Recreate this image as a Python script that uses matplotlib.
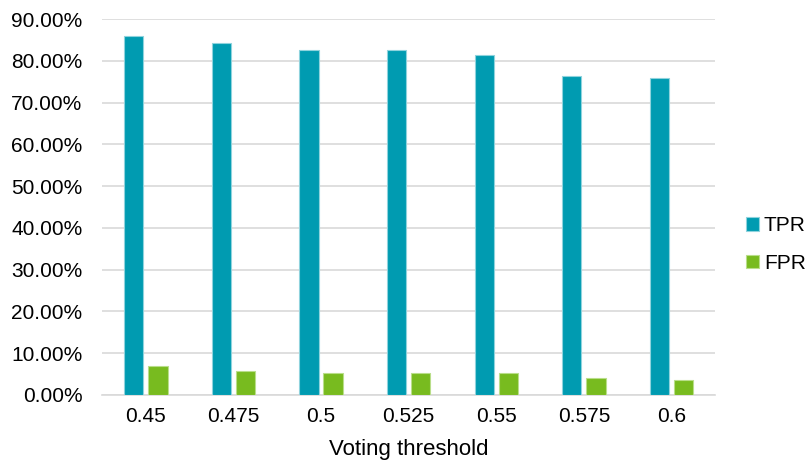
import numpy as np
import matplotlib.pyplot as plt
from matplotlib.ticker import PercentFormatter

plt.rcParams['font.family'] = ['Liberation Sans', 'DejaVu Sans']

thresholds = ['0.45', '0.475', '0.5', '0.525', '0.55', '0.575', '0.6']
tpr = [86.0, 84.3, 82.6, 82.6, 81.4, 76.4, 75.9]
fpr = [6.9, 5.8, 5.2, 5.2, 5.2, 4.1, 3.5]

teal = '#009BB1'
green = '#78BB1F'

fig = plt.figure(figsize=(8.1, 4.68), dpi=100)
ax = fig.add_axes([0.126, 0.156, 0.757, 0.803])

x = np.arange(len(thresholds))
w = 0.22
gap = 0.055
ax.bar(x - (w + gap) / 2, tpr, w, color=teal, edgecolor='#8FD3DD', linewidth=0.8, label='TPR', zorder=3)
ax.bar(x + (w + gap) / 2, fpr, w, color=green, edgecolor='#B9DE8A', linewidth=0.8, label='FPR', zorder=3)

ax.set_ylim(0, 90)
ax.set_yticks(np.arange(0, 91, 10))
ax.yaxis.set_major_formatter(PercentFormatter(decimals=2))
ax.set_xlim(-0.5, len(thresholds) - 0.5)
ax.set_xticks(x)
ax.set_xticklabels(thresholds)
ax.grid(axis='y', color='#D9D9D9', linewidth=1.2, zorder=0)
for s in ['top', 'right', 'left']:
    ax.spines[s].set_visible(False)
ax.spines['bottom'].set_color('#D9D9D9')
ax.spines['bottom'].set_linewidth(1.2)
ax.tick_params(length=0, labelsize=15, colors='#000000')
ax.tick_params(axis='y', pad=14)
ax.tick_params(axis='x', pad=9)
ax.set_xlabel('Voting threshold', fontsize=16, labelpad=9)

ax.legend(loc='center left', bbox_to_anchor=(1.02, 0.40), frameon=False, fontsize=15,
          handlelength=0.6, handleheight=0.6, handletextpad=0.25, labelspacing=0.9)

fig.savefig('out.png', dpi=100)
